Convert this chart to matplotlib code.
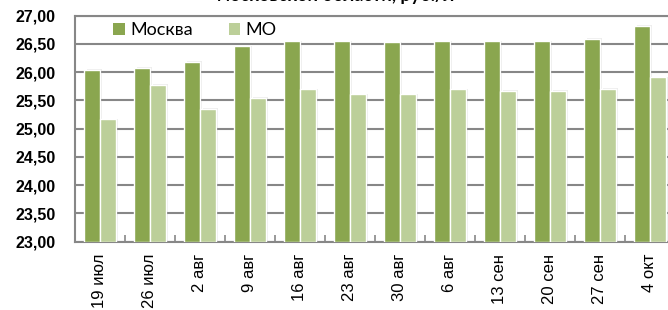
import matplotlib
matplotlib.use("Agg")
import matplotlib.pyplot as plt
from matplotlib.patches import Patch
from matplotlib.ticker import FixedLocator
import numpy as np

plt.rcParams["font.family"] = ["Liberation Sans", "DejaVu Sans"]

weeks = ["19 июл", "26 июл", "2 авг", "9 авг", "16 авг", "23 авг",
         "30 авг", "6 авг", "13 сен", "20 сен", "27 сен", "4 окт"]
moscow = [26.04, 26.08, 26.18, 26.46, 26.55, 26.55,
          26.53, 26.55, 26.55, 26.55, 26.59, 26.82]
mo = [25.17, 25.78, 25.35, 25.55, 25.70, 25.61,
      25.61, 25.70, 25.67, 25.67, 25.71, 25.91]
y_ticks = np.arange(23.0, 27.01, 0.5)

dark = "#8aa64f"
light = "#bccf99"
grey = "#878787"

fig = plt.figure(figsize=(6.68, 3.10), dpi=100)
ax = fig.add_axes([75 / 668, (310 - 241.7) / 310, 600 / 668, 226 / 310])

x = np.arange(len(weeks))
w = 0.31
# soft shadow to the right of each bar
for off, vals in ((-0.16, moscow), (0.16, mo)):
    ax.bar(x + off + 0.05, np.array(vals) - 23.0 + 0.01, w, bottom=23.0,
           color="#000000", alpha=0.07, linewidth=0, zorder=2)
ax.bar(x - 0.16, np.array(moscow) - 23.0, w, bottom=23.0, color=dark,
       edgecolor="white", linewidth=1.0, zorder=3)
ax.bar(x + 0.16, np.array(mo) - 23.0, w, bottom=23.0, color=light,
       edgecolor="white", linewidth=1.0, zorder=3)

ax.set_xlim(-0.5, len(weeks) - 0.5)
ax.set_ylim(23.0, 27.0)
ax.set_yticks(y_ticks)
ax.set_yticklabels([f"{v:.2f}".replace(".", ",") for v in y_ticks],
                   fontweight="bold", fontsize=11.5)
ax.set_xticks(x)
ax.set_xticklabels(weeks, rotation=90, fontsize=12)
ax.xaxis.set_minor_locator(FixedLocator(x[:-1] + 0.5))
ax.tick_params(axis="y", length=0, pad=14)
ax.tick_params(axis="x", which="major", length=0, pad=8.5)
ax.tick_params(axis="x", which="minor", length=5, direction="in",
               color=grey, width=1.2)

ax.grid(axis="y", color=grey, linewidth=1.5, zorder=1)
ax.set_axisbelow(True)
for side in ("left", "bottom", "top", "right"):
    ax.spines[side].set_color(grey)
    ax.spines[side].set_linewidth(1.5)

handles = [Patch(facecolor=dark, edgecolor="none", label="Москва"),
           Patch(facecolor=light, edgecolor="none", label="МО")]
ax.legend(handles=handles, loc="center left", bbox_to_anchor=(0.063, 0.937),
          ncol=2, frameon=False, borderpad=0, borderaxespad=0,
          handlelength=0.65, handleheight=0.65, handletextpad=0.3,
          columnspacing=2.0, prop={"family": "Lato", "size": 13})

fig.text(0.503, 0.997, "московской области, руб./л", ha="center", va="baseline",
         fontfamily="Lato", fontweight="bold", fontsize=13)

fig.savefig("out.png", dpi=100)
